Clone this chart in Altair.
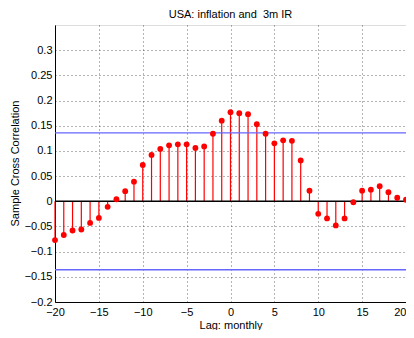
import altair as alt
import pandas as pd

lags = list(range(-20, 21))
xcorr = [-0.077, -0.067, -0.058, -0.056, -0.043, -0.033, -0.011, 0.004, 0.020, 0.039,
         0.072, 0.092, 0.104, 0.111, 0.113, 0.113, 0.106, 0.109, 0.134, 0.160,
         0.177, 0.175, 0.173, 0.153, 0.134, 0.115, 0.121, 0.120, 0.081, 0.021,
         -0.025, -0.034, -0.048, -0.034, -0.002, 0.021, 0.023, 0.030, 0.018, 0.007,
         0.003]
bound = 0.136
x_ticks = [-20, -15, -10, -5, 0, 5, 10, 15, 20]
y_ticks = [-0.2, -0.15, -0.1, -0.05, 0, 0.05, 0.1, 0.15, 0.2, 0.25, 0.3]

df = pd.DataFrame({"lag": lags, "r": xcorr, "zero": [0.0] * len(lags)})
bounds = pd.DataFrame({"b": [bound, -bound]})

font = "Liberation Sans"
xs = alt.Scale(domain=[-20, 20], nice=False, zero=False)
ys = alt.Scale(domain=[-0.2, 0.35], nice=False, zero=False)

x_axis = alt.Axis(values=x_ticks, grid=True, gridDash=[1, 3], gridColor="#444",
                  gridOpacity=0.8, domainColor="black", tickColor="black",
                  tickSize=0, labelPadding=4, labelFontSize=11, labelFont=font,
                  labelColor="black", titleFont=font, titleFontSize=11,
                  titleFontWeight="normal", titleColor="black", titlePadding=2,
                  labelFlush=False, labelOverlap=False,
                  labelAlign=alt.ExprRef("datum.value == 20 ? 'right' : 'center'"))
y_axis = alt.Axis(values=y_ticks, grid=True, gridDash=[1, 3], gridColor="#444",
                  gridOpacity=0.8, domainColor="black", tickColor="black",
                  tickSize=0, labelPadding=3, labelFontSize=11, labelFont=font,
                  labelColor="black", titleFont=font, titleFontSize=11,
                  titleFontWeight="normal", titleColor="black",
                  titleX=-35, titleY=138, titleAngle=270, titleBaseline="bottom",
                  titleAlign="center",
                  format="~g", labelFlush=False, labelOverlap=False)

XT = "Lag: monthly"
YT = "Sample Cross Correlation"
x_enc = alt.X("lag:Q", scale=xs, title=XT, axis=x_axis)
y_enc = alt.Y("r:Q", scale=ys, title=YT, axis=y_axis)

base = alt.Chart(df)
stems = base.mark_rule(color="red", strokeWidth=1.2).encode(x=x_enc, y=y_enc, y2="zero:Q")
zero_line = alt.Chart(pd.DataFrame({"z": [0.0]})).mark_rule(color="black", strokeWidth=1.5).encode(
    y=alt.Y("z:Q", scale=ys, title=YT, axis=y_axis))
bound_lines = alt.Chart(bounds).mark_rule(color="#6666ff", strokeWidth=1.3).encode(
    y=alt.Y("b:Q", scale=ys, title=YT, axis=y_axis))
dots = base.mark_circle(color="red", size=34, opacity=1).encode(x=x_enc, y=y_enc)

chart = alt.layer(stems, zero_line, bound_lines, dots).properties(
    width=351, height=277,
    title=alt.TitleParams("USA: inflation and\u00a0 3m IR", font=font, fontSize=11,
                          fontWeight="normal", color="black", offset=5),
    autosize=alt.AutoSizeParams(type="none"),
    padding={"left": 47, "top": 17, "right": 0, "bottom": 28},
).configure_view(stroke="black", strokeWidth=1.2).configure(background="white")

chart.save("out.html", embed_options={"renderer": "svg", "actions": False})
